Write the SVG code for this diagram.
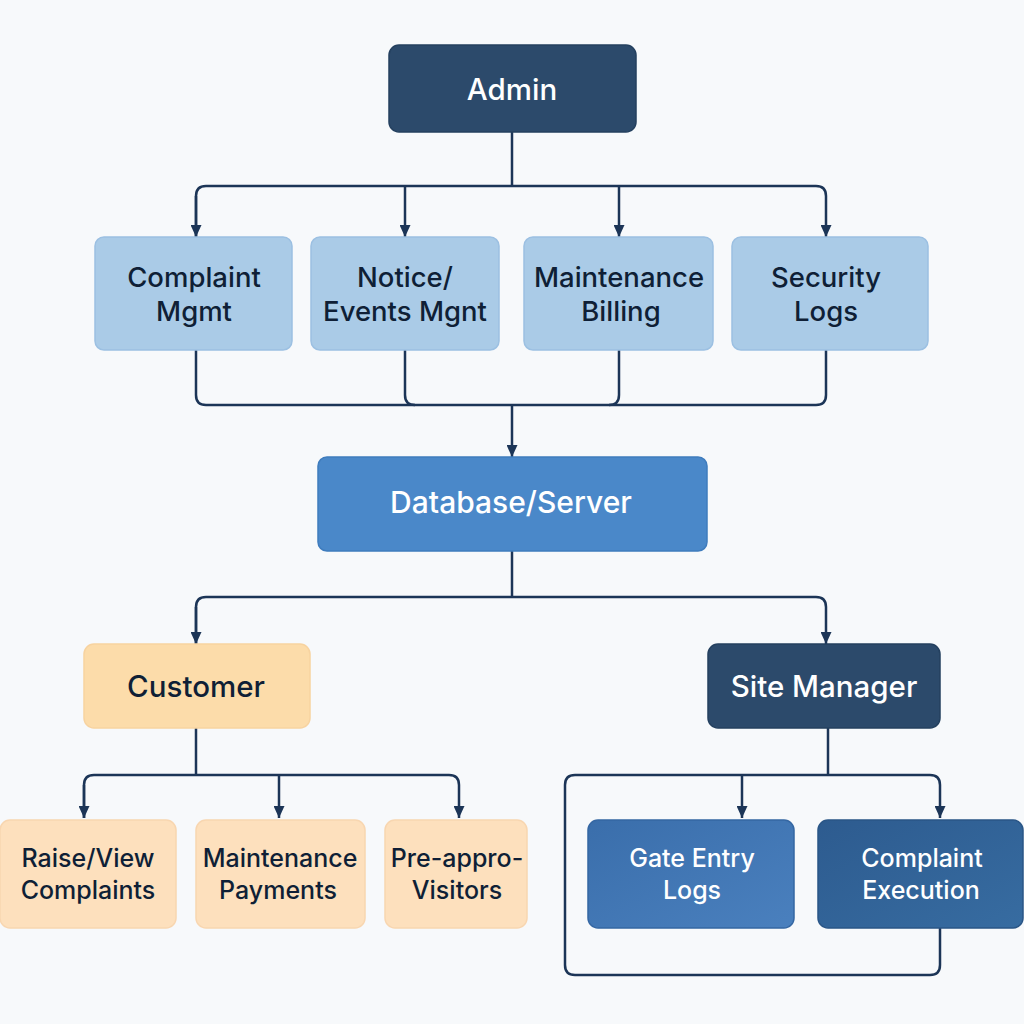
<svg xmlns="http://www.w3.org/2000/svg" width="1024" height="1024" viewBox="0 0 1024 1024">
<defs>
<marker id="arr" viewBox="0 0 12 11" refX="12" refY="5.5" markerWidth="12" markerHeight="11" markerUnits="userSpaceOnUse" orient="auto">
<path d="M0,0 L12,5.5 L0,11 Z" fill="#1c3557"/>
</marker>
<linearGradient id="gGate" x1="0" y1="0" x2="1" y2="1">
<stop offset="0" stop-color="#3a6eab"/>
<stop offset="1" stop-color="#4a80be"/>
</linearGradient>
<linearGradient id="gExec" x1="0" y1="0" x2="1" y2="1">
<stop offset="0" stop-color="#2d5b8f"/>
<stop offset="1" stop-color="#376ca1"/>
</linearGradient>
</defs>
<style>
text{font-family:Inter,"Noto Sans","Liberation Sans",sans-serif;font-weight:500;text-anchor:middle}
.dark rect{fill:#2c4a6b;stroke:#24405f;stroke-width:1.5}
.dark text{fill:#ffffff;font-size:29.5px}
.lb rect{fill:#aacbe7;stroke:#9cc0e2;stroke-width:1.5}
.lb text{fill:#0f1f36;font-size:27.5px}
.db rect{fill:#4a88c9;stroke:#3f7cbd;stroke-width:1.5}
.db text{fill:#ffffff;font-size:30px}
.or rect{fill:#fcdcaa;stroke:#f7d3a0;stroke-width:1.5}
.or text{fill:#0f1f36;font-size:29.5px}
.pe rect{fill:#fde0bd;stroke:#f8d6b0;stroke-width:1.5}
.pe text{fill:#0f1f36;font-size:25px}
.mb text{fill:#ffffff;font-size:25px}
.conn path{fill:none;stroke:#1c3557;stroke-width:2.5}
</style>
<rect width="1024" height="1024" fill="#f7f9fb"/>

<g id="connectors" class="conn">
<path d="M512,132 V186"/>
<path d="M196,237 V196 Q196,186 206,186 H816 Q826,186 826,196 V237" marker-end="url(#arr)"/>
<path d="M196,196 V237" marker-end="url(#arr)"/>
<path d="M405,186 V237" marker-end="url(#arr)"/>
<path d="M619,186 V237" marker-end="url(#arr)"/>
<path d="M196,350 V395 Q196,405 206,405 H816 Q826,405 826,395 V350"/>
<path d="M405,350 V395 Q405,405 415,405"/>
<path d="M619,350 V395 Q619,405 609,405"/>
<path d="M512,405 V457" marker-end="url(#arr)"/>
<path d="M512,551 V597"/>
<path d="M196,644 V607 Q196,597 206,597 H816 Q826,597 826,607 V644" marker-end="url(#arr)"/>
<path d="M196,607 V644" marker-end="url(#arr)"/>
<path d="M196,728 V775"/>
<path d="M84,818 V785 Q84,775 94,775 H449 Q459,775 459,785 V818" marker-end="url(#arr)"/>
<path d="M84,785 V818" marker-end="url(#arr)"/>
<path d="M279,775 V818" marker-end="url(#arr)"/>
<path d="M828,728 V775"/>
<path d="M940,928 V965 Q940,975 930,975 H575 Q565,975 565,965 V785 Q565,775 575,775 H930 Q940,775 940,785 V818" marker-end="url(#arr)"/>
<path d="M742,775 V818" marker-end="url(#arr)"/>
</g>

<g id="admin" class="dark">
<rect x="389" y="45" width="247" height="87" rx="10"/>
<text x="512" y="100">Admin</text>
</g>

<g id="complaint-mgmt" class="lb">
<rect x="95" y="237" width="197" height="113" rx="9"/>
<text x="194" y="287">Complaint</text>
<text x="194" y="321">Mgmt</text>
</g>
<g id="notice-events" class="lb">
<rect x="311" y="237" width="188" height="113" rx="9"/>
<text x="405" y="287">Notice/</text>
<text x="405" y="321">Events Mgnt</text>
</g>
<g id="maintenance-billing" class="lb">
<rect x="524" y="237" width="189" height="113" rx="9"/>
<text x="619" y="287">Maintenance</text>
<text x="621" y="321">Billing</text>
</g>
<g id="security-logs" class="lb">
<rect x="732" y="237" width="196" height="113" rx="9"/>
<text x="826" y="287">Security</text>
<text x="826" y="321">Logs</text>
</g>

<g id="database" class="db">
<rect x="318" y="457" width="389" height="94" rx="9"/>
<text x="511" y="513">Database/Server</text>
</g>

<g id="customer" class="or">
<rect x="84" y="644" width="226" height="84" rx="10"/>
<text x="196" y="697">Customer</text>
</g>

<g id="site-manager" class="dark">
<rect x="708" y="644" width="232" height="84" rx="10"/>
<text x="824" y="697">Site Manager</text>
</g>

<g id="raise-view" class="pe">
<rect x="0" y="820" width="176" height="108" rx="10"/>
<text x="88" y="867">Raise/View</text>
<text x="88" y="899">Complaints</text>
</g>
<g id="maintenance-payments" class="pe">
<rect x="196" y="820" width="169" height="108" rx="10"/>
<text x="280" y="867">Maintenance</text>
<text x="278" y="899">Payments</text>
</g>
<g id="pre-approved" class="pe">
<rect x="385" y="820" width="142" height="108" rx="10"/>
<text x="457" y="867">Pre-appro-</text>
<text x="457" y="899">Visitors</text>
</g>

<g id="gate-entry" class="mb">
<rect x="588" y="820" width="206" height="108" rx="10" fill="url(#gGate)" stroke="#3567a3" stroke-width="1.5"/>
<text x="692" y="867">Gate Entry</text>
<text x="692" y="899">Logs</text>
</g>
<g id="complaint-execution" class="mb">
<rect x="818" y="820" width="205" height="108" rx="10" fill="url(#gExec)" stroke="#2a5687" stroke-width="1.5"/>
<text x="922" y="867">Complaint</text>
<text x="921" y="899">Execution</text>
</g>
</svg>
